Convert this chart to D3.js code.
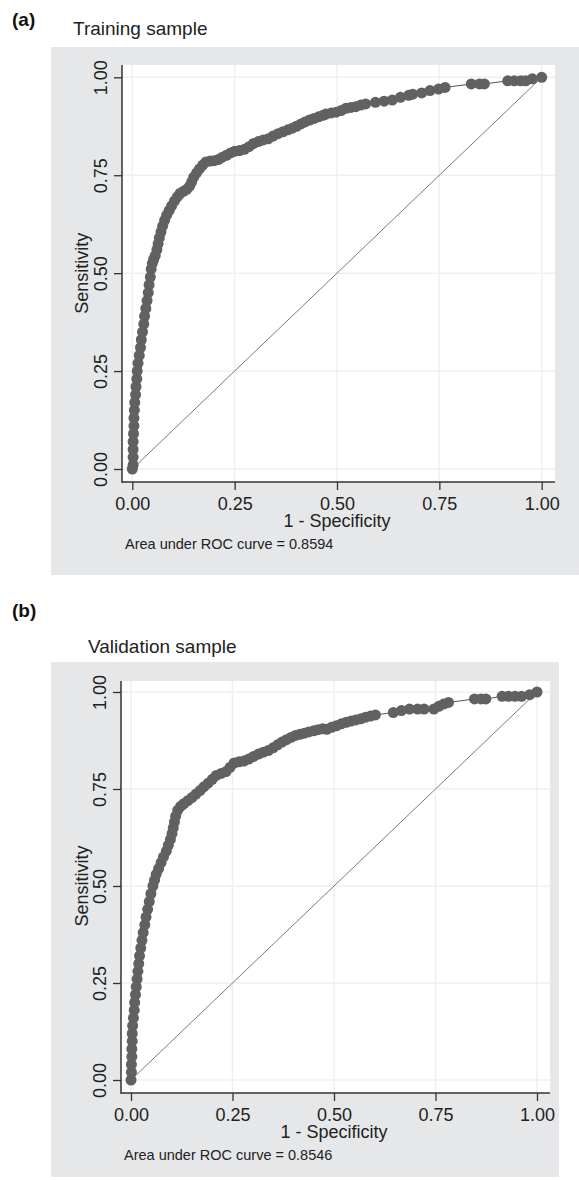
<!DOCTYPE html>
<html>
<head>
<meta charset="utf-8">
<script src="https://cdn.jsdelivr.net/npm/d3@7"></script>
<style>
  body { margin: 0; background: #fff; }
  svg { display: block; font-family: "Liberation Sans", Arial, sans-serif; }
</style>
</head>
<body>
<svg id="chart" width="579" height="1180"></svg>
<script>
// tick values shared by both panels
var tickVals = [0, 0.25, 0.5, 0.75, 1];

// training sample ROC points (1 - specificity, sensitivity)
var trainFpr = [0, 0.002, 0.002, 0.002, 0.002, 0.003, 0.004, 0.004, 0.005, 0.006, 0.008, 0.009, 0.011, 0.012, 0.014, 0.017, 0.020, 0.022, 0.025, 0.028, 0.030, 0.033, 0.036, 0.039, 0.041, 0.044, 0.046, 0.049, 0.052,
  0.056, 0.060, 0.063, 0.066, 0.070, 0.074, 0.079, 0.084, 0.090, 0.096, 0.103, 0.110, 0.117, 0.125, 0.133, 0.140, 0.145, 0.150, 0.157, 0.164, 0.172, 0.180, 0.190, 0.200, 0.210, 0.220, 0.230, 0.240, 0.250, 0.262, 0.274, 0.285, 0.296, 0.308, 0.320, 0.332, 0.344, 0.356, 0.368, 0.380, 0.391, 0.401, 0.412, 0.422, 0.433, 0.444, 0.455, 0.466,
  0.473, 0.486, 0.498, 0.510, 0.522, 0.534, 0.546, 0.558, 0.570,
  0.594, 0.615, 0.635, 0.655, 0.675, 0.685,
  0.707, 0.727, 0.748, 0.764,
  0.828, 0.848, 0.860,
  0.917, 0.933, 0.949, 0.961, 0.977, 1];
var trainTpr = [0, 0.01, 0.03, 0.05, 0.07, 0.09, 0.11, 0.13, 0.15, 0.17, 0.19, 0.21, 0.23, 0.25, 0.27, 0.29, 0.31, 0.33, 0.35, 0.37, 0.39, 0.41, 0.43, 0.45, 0.47, 0.49, 0.51, 0.525, 0.535,
  0.545, 0.56, 0.575, 0.59, 0.605, 0.62, 0.635, 0.648, 0.66, 0.672, 0.684, 0.695, 0.704, 0.709, 0.714, 0.722, 0.733, 0.745, 0.756, 0.766, 0.776, 0.784, 0.786, 0.787, 0.790, 0.796, 0.801, 0.807, 0.811, 0.813, 0.816, 0.823, 0.831, 0.836, 0.840, 0.843, 0.850, 0.856, 0.861, 0.866, 0.870, 0.875, 0.881, 0.886, 0.891, 0.895, 0.899, 0.903,
  0.906, 0.909, 0.911, 0.915, 0.921, 0.923, 0.925, 0.929, 0.932,
  0.936, 0.939, 0.942, 0.949, 0.954, 0.957,
  0.960, 0.966, 0.970, 0.974,
  0.983, 0.983, 0.983,
  0.991, 0.991, 0.991, 0.991, 0.996, 1];

// validation sample ROC points
var validFpr = [0, 0.001, 0.001, 0.002, 0.002, 0.003, 0.003, 0.004, 0.006, 0.008, 0.009, 0.011, 0.013, 0.015, 0.017, 0.019, 0.021, 0.024, 0.027, 0.030, 0.034, 0.037, 0.041, 0.045, 0.049, 0.054, 0.058, 0.062, 0.068, 0.074, 0.080, 0.087, 0.092, 0.097, 0.101, 0.104, 0.107, 0.110, 0.115, 0.122, 0.130, 0.140, 0.150, 0.160, 0.170, 0.180, 0.190, 0.200, 0.210, 0.222, 0.234, 0.244, 0.254, 0.266, 0.278, 0.290, 0.302, 0.314, 0.326, 0.338, 0.350, 0.361, 0.372, 0.383, 0.394, 0.405, 0.416, 0.427, 0.438, 0.450, 0.461, 0.472,
  0.482, 0.494, 0.506, 0.518, 0.530, 0.542, 0.554, 0.566, 0.578, 0.590, 0.602,
  0.646,
  0.666, 0.686, 0.706, 0.722,
  0.746, 0.758, 0.770, 0.782,
  0.846, 0.862, 0.874,
  0.914, 0.930, 0.946, 0.962, 0.982, 1];
var validTpr = [0, 0.02, 0.04, 0.06, 0.08, 0.10, 0.12, 0.14, 0.16, 0.18, 0.20, 0.22, 0.24, 0.26, 0.28, 0.30, 0.32, 0.34, 0.36, 0.38, 0.40, 0.42, 0.44, 0.46, 0.48, 0.50, 0.515, 0.53, 0.545, 0.56, 0.575, 0.59, 0.605, 0.62, 0.635, 0.65, 0.665, 0.68, 0.695, 0.705, 0.712, 0.720, 0.728, 0.737, 0.746, 0.756, 0.765, 0.775, 0.785, 0.790, 0.795, 0.806, 0.817, 0.820, 0.822, 0.827, 0.834, 0.840, 0.845, 0.849, 0.856, 0.864, 0.871, 0.877, 0.883, 0.888, 0.891, 0.894, 0.897, 0.900, 0.903, 0.905,
  0.904, 0.909, 0.913, 0.918, 0.922, 0.925, 0.928, 0.931, 0.935, 0.938, 0.941,
  0.947,
  0.952, 0.956, 0.956, 0.956,
  0.956, 0.963, 0.969, 0.973,
  0.982, 0.982, 0.982,
  0.989, 0.989, 0.989, 0.989, 0.993, 1];

var svg = d3.select("#chart");

function drawPanel(p) {
  var g = svg.append("g");

  // figure letter and sample title
  g.append("text").attr("x", 12).attr("y", p.letterY)
    .style("font-size", "19px").style("font-weight", "bold").style("fill", "#111")
    .text(p.letter);
  g.append("text").attr("x", p.titleX).attr("y", p.titleY)
    .style("font-size", "19px").style("fill", "#222")
    .text(p.title);

  // gray graph region and white plot region
  g.append("rect").attr("x", p.bg[0]).attr("y", p.bg[1]).attr("width", p.bg[2]).attr("height", p.bg[3])
    .style("fill", "#e6e7e9");
  g.append("rect").attr("x", p.left).attr("y", p.top)
    .attr("width", p.right - p.left).attr("height", p.bottom - p.top)
    .style("fill", "#fff");

  var x = d3.scaleLinear().domain([0, 1]).range(p.xr);
  var y = d3.scaleLinear().domain([0, 1]).range(p.yr);

  // grid lines
  g.append("g").selectAll("line.gx").data(tickVals).enter().append("line")
    .attr("x1", function(d) { return x(d); }).attr("x2", function(d) { return x(d); })
    .attr("y1", p.top).attr("y2", p.bottom)
    .style("stroke", "#efefef").style("stroke-width", 1.5);
  g.append("g").selectAll("line.gy").data(tickVals).enter().append("line")
    .attr("y1", function(d) { return y(d); }).attr("y2", function(d) { return y(d); })
    .attr("x1", p.left).attr("x2", p.right)
    .style("stroke", "#efefef").style("stroke-width", 1.5);

  // reference diagonal
  g.append("line")
    .attr("x1", x(0)).attr("y1", y(0)).attr("x2", x(1)).attr("y2", y(1))
    .style("stroke", "#7a7a7a").style("stroke-width", 1);

  var pts = p.fpr.map(function(d, i) { return [d, p.tpr[i]]; });

  // connecting line
  var line = d3.line().x(function(d) { return x(d[0]); }).y(function(d) { return y(d[1]); });
  g.append("path").datum(pts).attr("d", line)
    .style("fill", "none").style("stroke", "#555").style("stroke-width", 1);

  // markers
  g.append("g").selectAll("circle").data(pts).enter().append("circle")
    .attr("cx", function(d) { return x(d[0]); })
    .attr("cy", function(d) { return y(d[1]); })
    .attr("r", 5.5)
    .style("fill", "#616161");

  // axes
  var yAxis = g.append("g").attr("transform", "translate(" + p.left + ",0)")
    .call(d3.axisLeft(y).tickValues(tickVals).tickSize(8).tickFormat(d3.format(".2f")));
  yAxis.select(".domain").remove();
  yAxis.selectAll("line").style("stroke", "#333").style("stroke-width", 1.3);
  yAxis.selectAll("text")
    .attr("transform", "rotate(-90)")
    .attr("x", 0).attr("y", -15.5).attr("dy", 0)
    .attr("text-anchor", "middle")
    .style("font-size", "18px").style("fill", "#222")
    .style("font-family", "Liberation Sans, Arial, sans-serif");

  var xAxis = g.append("g").attr("transform", "translate(0," + p.bottom + ")")
    .call(d3.axisBottom(x).tickValues(tickVals).tickSize(8).tickFormat(d3.format(".2f")));
  xAxis.select(".domain").remove();
  xAxis.selectAll("line").style("stroke", "#333").style("stroke-width", 1.3);
  xAxis.selectAll("text")
    .attr("y", 28).attr("dy", 0)
    .style("font-size", "18px").style("fill", "#222")
    .style("font-family", "Liberation Sans, Arial, sans-serif");

  // axis lines
  g.append("line").attr("x1", p.left).attr("x2", p.left).attr("y1", p.top).attr("y2", p.bottom + 0.7)
    .style("stroke", "#333").style("stroke-width", 1.5);
  g.append("line").attr("x1", p.left).attr("x2", p.right).attr("y1", p.bottom).attr("y2", p.bottom)
    .style("stroke", "#333").style("stroke-width", 1.5);

  // axis titles
  g.append("text")
    .attr("transform", "translate(" + p.ytitleX + "," + (y(0.5)) + ") rotate(-90)")
    .attr("text-anchor", "middle")
    .style("font-size", "18px").style("fill", "#222")
    .text("Sensitivity");
  g.append("text").attr("x", x(0.5)).attr("y", p.bottom + 44.5)
    .attr("text-anchor", "middle")
    .style("font-size", "18px").style("fill", "#222")
    .text("1 - Specificity");

  // area note
  g.append("text").attr("x", p.left + 3).attr("y", p.bottom + 66.8)
    .style("font-size", "14.5px").style("fill", "#222")
    .text("Area under ROC curve = " + p.auc);
}

drawPanel({
  letter: "(a)", letterY: 26, title: "Training sample", titleX: 73, titleY: 34.5,
  bg: [51, 47, 528, 528], left: 122, top: 65, right: 555, bottom: 482,
  xr: [132.3, 541.7], yr: [469, 77.3], ytitleX: 88,
  fpr: trainFpr, tpr: trainTpr, auc: "0.8594"
});

drawPanel({
  letter: "(b)", letterY: 617, title: "Validation sample", titleX: 88, titleY: 652.7,
  bg: [51, 662, 508, 515], left: 121, top: 681, right: 550, bottom: 1093,
  xr: [131, 537], yr: [1080, 692], ytitleX: 88,
  fpr: validFpr, tpr: validTpr, auc: "0.8546"
});
</script>
</body>
</html>
